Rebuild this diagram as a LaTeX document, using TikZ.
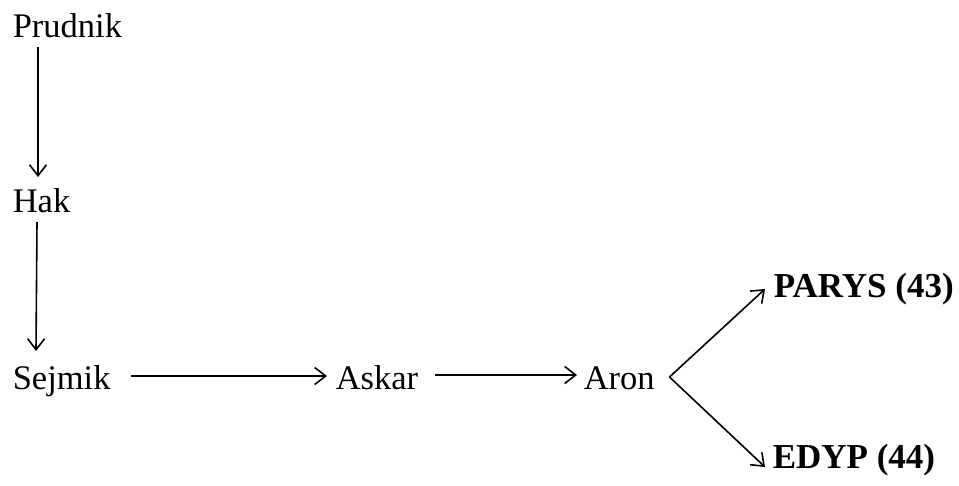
\documentclass[tikz,border=0pt]{standalone}
\usepackage{fontspec}
\setmainfont{Liberation Serif}
\usetikzlibrary{arrows.meta}

\begin{document}
\begin{tikzpicture}[->,>={Straight Barb[length=11pt,width=17pt]},x=1pt,y=-1pt,
  line width=1.6pt,place/.style={inner sep=0pt,anchor=base west,font=\fontsize{34.5}{40}\selectfont},
  target/.style={place,font=\fontsize{35}{40}\selectfont\bfseries}]

  \useasboundingbox (0,0) rectangle (959,485);

  \node[place] (Pr) at (12,37) {Prudnik};
  \node[place] (Ha) at (12,212) {Hak};
  \node[place] (Se) at (12,389) {Sejmik};
  \node[place] (As) at (335,389) {Askar};
  \node[place] (Ar) at (583,389) {Aron};
  \node[target] (PA) at (773,297) {PARYS (43)};
  \node[target] (ED) at (772,468) {EDYP (44)};

  \path
    ([shift={(26,10)}]Pr.base west) edge ([shift={(26,-35)}]Ha.base west)
    ([shift={(25,10)}]Ha.base west) edge ([shift={(24,-38)}]Se.base west)
    ([shift={(20,-13)}]Se.base east) edge ([shift={(-8,-13)}]As.base west)
    ([shift={(16,-14)}]As.base east) edge ([shift={(-6,-14)}]Ar.base west)
    ([shift={(14,-12)}]Ar.base east) edge ([shift={(-8,-8)}]PA.base west)
    ([shift={(14,-12)}]Ar.base east) edge ([shift={(-7,-1)}]ED.base west);
\end{tikzpicture}
\end{document}
